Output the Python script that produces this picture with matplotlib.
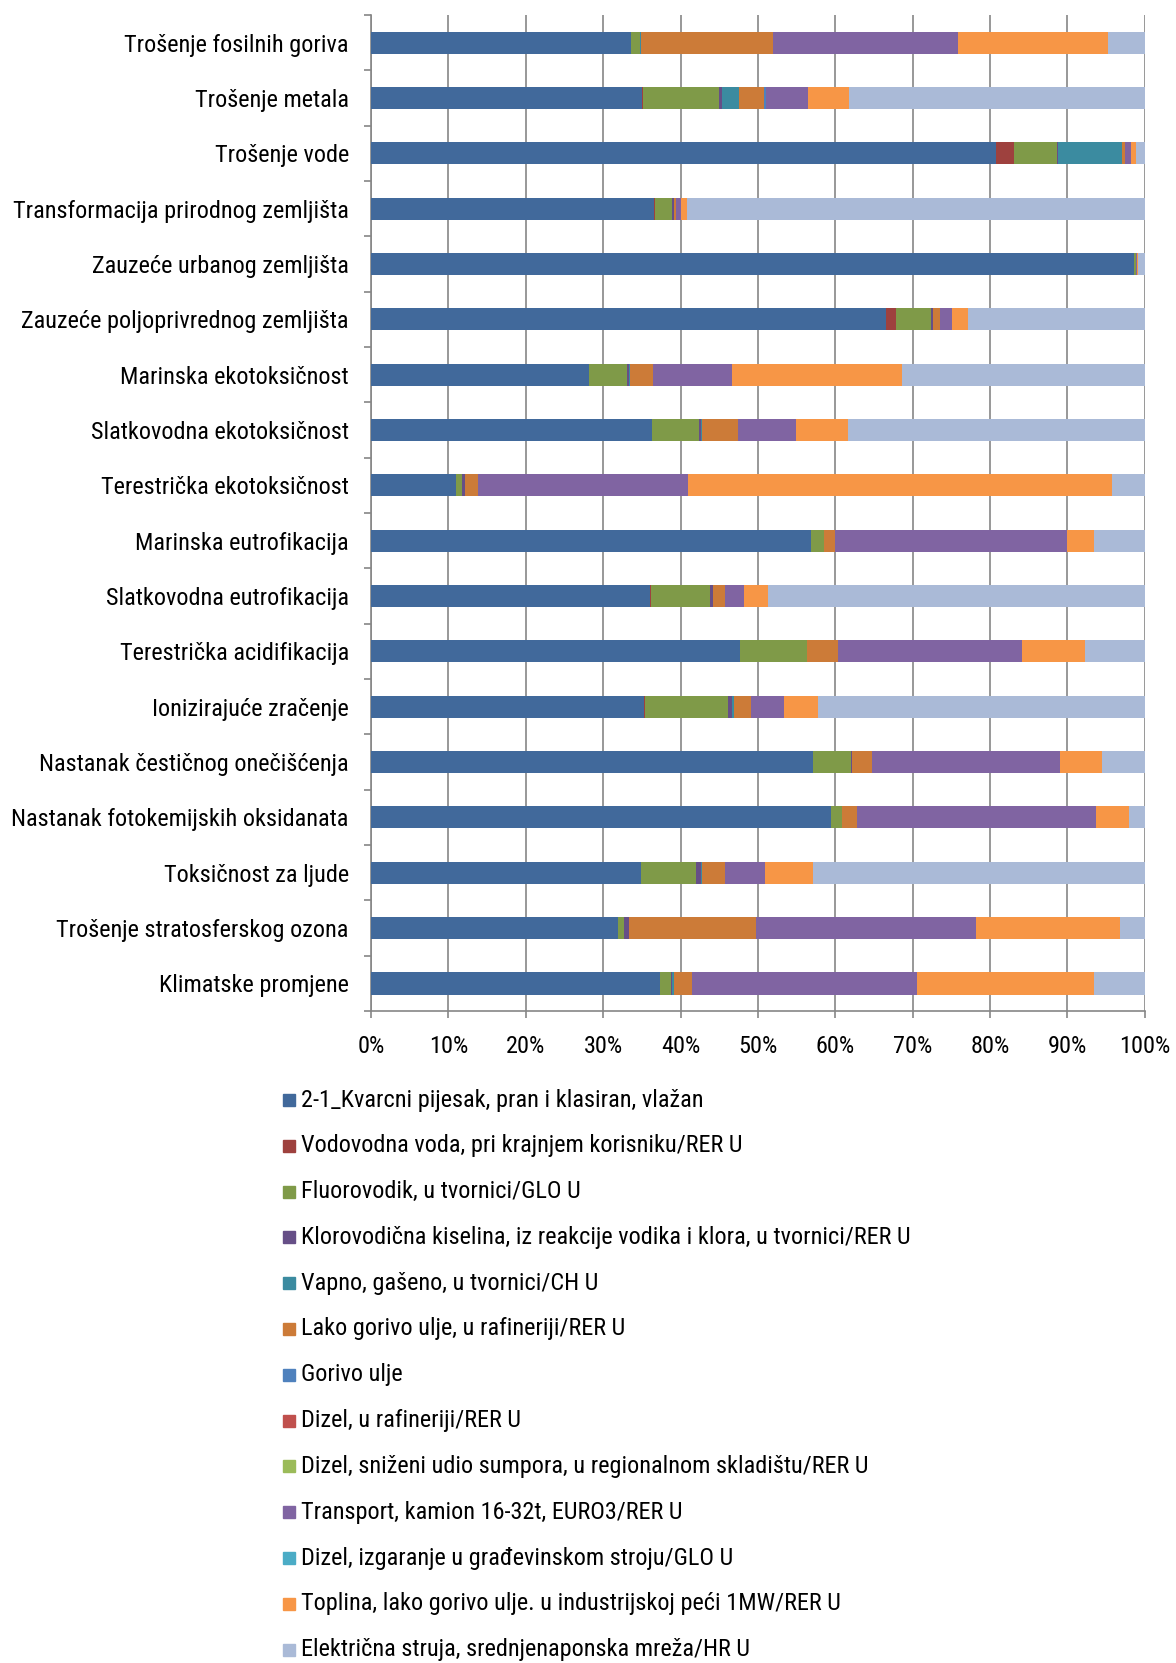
import matplotlib
matplotlib.use("Agg")
import matplotlib.pyplot as plt
from matplotlib.patches import Rectangle
import numpy as np

# categories, top to bottom
categories = [
    "Trošenje fosilnih goriva", "Trošenje metala", "Trošenje vode",
    "Transformacija prirodnog zemljišta", "Zauzeće urbanog zemljišta",
    "Zauzeće poljoprivrednog zemljišta", "Marinska ekotoksičnost",
    "Slatkovodna ekotoksičnost", "Terestrička ekotoksičnost",
    "Marinska eutrofikacija", "Slatkovodna eutrofikacija",
    "Terestrička acidifikacija", "Ionizirajuće zračenje",
    "Nastanak čestičnog onečišćenja", "Nastanak fotokemijskih oksidanata",
    "Toksičnost za ljude", "Trošenje stratosferskog ozona", "Klimatske promjene",
]

series = [
    "2-1_Kvarcni pijesak, pran i klasiran, vlažan",
    "Vodovodna voda, pri krajnjem korisniku/RER U",
    "Fluorovodik, u tvornici/GLO U",
    "Klorovodična kiselina, iz reakcije vodika i klora, u tvornici/RER U",
    "Vapno, gašeno, u tvornici/CH U",
    "Lako gorivo ulje, u rafineriji/RER U",
    "Gorivo ulje",
    "Dizel, u rafineriji/RER U",
    "Dizel, sniženi udio sumpora, u regionalnom skladištu/RER U",
    "Transport, kamion 16-32t, EURO3/RER U",
    "Dizel, izgaranje u građevinskom stroju/GLO U",
    "Toplina, lako gorivo ulje. u industrijskoj peći 1MW/RER U",
    "Električna struja, srednjenaponska mreža/HR U",
]

colors = ["#41699B", "#9E413E", "#7F9A48", "#664F87", "#3B8BA0", "#CC7B38",
          "#4F81BD", "#C0504D", "#9BBB59", "#8064A2", "#4BACC6", "#F79646",
          "#AABAD7"]

# percentage shares per series, one value per category (top to bottom)
kvarcni     = [33.6, 35.0, 80.8, 36.6, 98.6, 66.5, 28.2, 36.3, 11.0, 56.9, 36.1, 47.7, 35.3, 57.1, 59.5, 34.9, 31.9, 37.3]
vodovodna   = [0.0, 0.15, 2.3, 0.05, 0.0, 1.4, 0.0, 0.0, 0.0, 0.0, 0.05, 0.0, 0.1, 0.0, 0.0, 0.05, 0.0, 0.0]
fluorovodik = [1.1, 9.8, 5.6, 2.3, 0.2, 4.5, 4.9, 6.1, 0.7, 1.6, 7.7, 8.6, 10.7, 4.9, 1.3, 7.1, 0.8, 1.5]
klorovod    = [0.1, 0.4, 0.1, 0.2, 0.0, 0.2, 0.3, 0.3, 0.4, 0.0, 0.3, 0.1, 0.5, 0.1, 0.0, 0.6, 0.6, 0.1]
vapno       = [0.1, 2.2, 8.2, 0.0, 0.0, 0.0, 0.1, 0.1, 0.0, 0.0, 0.1, 0.0, 0.3, 0.0, 0.0, 0.1, 0.0, 0.2]
lako_ulje   = [17.0, 3.2, 0.5, 0.3, 0.1, 0.9, 2.9, 4.6, 1.7, 1.4, 1.5, 4.0, 2.2, 2.6, 2.0, 3.0, 16.4, 2.4]
gorivo_ulje = [0.0, 0.3, 0.0, 0.0, 0.0, 0.0, 0.0, 0.0, 0.0, 0.0, 0.0, 0.0, 0.0, 0.0, 0.0, 0.0, 0.0, 0.0]
dizel_raf   = [0.0] * 18
dizel_snz   = [0.0] * 18
transport   = [24.0, 5.4, 0.7, 0.6, 0.1, 1.6, 10.3, 7.5, 27.2, 30.1, 2.5, 23.7, 4.3, 24.4, 30.9, 5.1, 28.5, 29.1]
dizel_izg   = [0.0] * 18
toplina     = [19.3, 5.3, 0.6, 0.8, 0.1, 2.0, 21.9, 6.7, 54.8, 3.4, 3.0, 8.2, 4.3, 5.3, 4.3, 6.3, 18.6, 22.8]

parts = [kvarcni, vodovodna, fluorovodik, klorovod, vapno, lako_ulje, gorivo_ulje,
         dizel_raf, dizel_snz, transport, dizel_izg, toplina]
struja = list(100 - np.sum(parts, axis=0))
data = np.array(parts + [struja])

font = ["Roboto Condensed", "DejaVu Sans"]
plt.rcParams["font.family"] = font
FS = 17.5

fig = plt.figure(figsize=(11.76, 16.63), dpi=100)
ax = fig.add_axes([0.3155, 0.392, 0.658, 0.599])

y = np.arange(len(categories))
left = np.zeros(len(categories))
for vals, col in zip(data, colors):
    ax.barh(y, vals, left=left, height=0.4, color=col, linewidth=0, zorder=3)
    left += vals

ax.set_xlim(0, 100)
ax.set_ylim(len(categories) - 0.5, -0.5)
ax.set_xticks(np.arange(0, 101, 10))
ax.set_xticklabels([f"{v}%" for v in range(0, 101, 10)], fontsize=FS)
ax.set_yticks(y)
ax.set_yticklabels(categories, fontsize=FS)
ax.set_yticks(np.arange(-0.5, len(categories), 1), minor=True)
ax.tick_params(axis="y", which="major", length=0, pad=16)
ax.tick_params(axis="y", which="minor", length=5, color="#868686", width=1.2)
ax.tick_params(axis="x", length=5, color="#868686", width=1.2, pad=12)
ax.grid(axis="x", color="#868686", linewidth=1.2, zorder=0)
for s in ["top", "right"]:
    ax.spines[s].set_visible(False)
for s in ["left", "bottom"]:
    ax.spines[s].set_color("#868686")
    ax.spines[s].set_linewidth(1.2)

# legend, one column below the plot
y0 = 1 - 1100 / 1663
dy = 45.8 / 1663
for i, (name, col) in enumerate(zip(series, colors)):
    yy = y0 - i * dy
    fig.add_artist(Rectangle((283 / 1176, yy - 6 / 1663), 12 / 1176, 12 / 1663,
                             transform=fig.transFigure, color=col))
    fig.text(301 / 1176, yy, name, fontsize=FS, va="center", ha="left")

fig.savefig("out.png", dpi=100)
